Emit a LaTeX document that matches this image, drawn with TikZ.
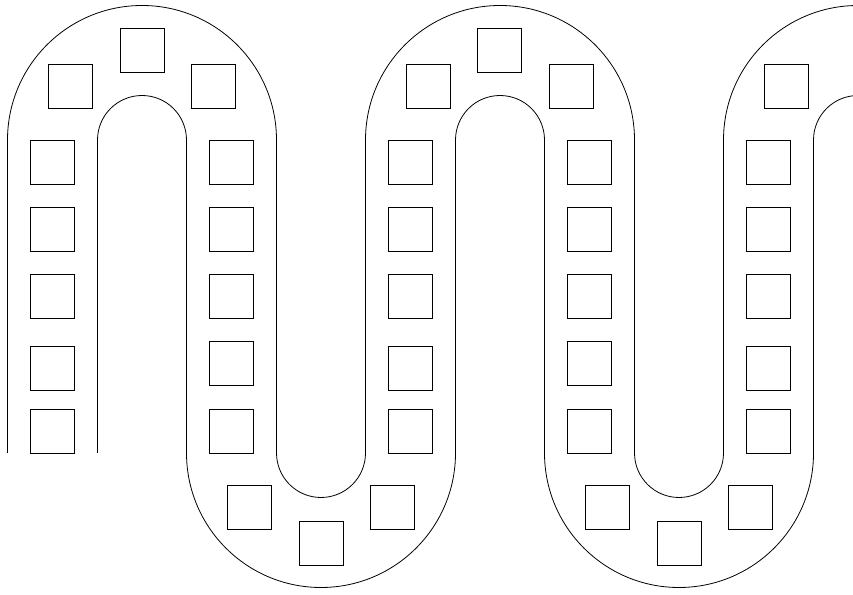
\documentclass[tikz,border=0pt]{standalone}
\begin{document}
\begin{tikzpicture}[x=1pt,y=1pt,
  track/.style={line width=0.8pt,black},
  tile/.style={draw,line width=0.8pt,minimum size=44pt,inner sep=0pt,fill=white}]
\useasboundingbox (0,0) rectangle (853,594);
\clip (0,0) rectangle (853,594);
% outer/inner serpentine curves
\draw[track] (7.5,141) -- (7.5,454) arc[start angle=180,end angle=0,radius=134.5]
  -- (276.5,141) arc[start angle=180,end angle=360,radius=44.5]
  -- (365.5,454) arc[start angle=180,end angle=0,radius=134.5]
  -- (634.5,141) arc[start angle=180,end angle=360,radius=44.5]
  -- (723.5,454) arc[start angle=180,end angle=0,radius=134.5];
\draw[track] (97.5,141) -- (97.5,454) arc[start angle=180,end angle=0,radius=44.5]
  -- (186.5,141) arc[start angle=180,end angle=360,radius=134.5]
  -- (455.5,454) arc[start angle=180,end angle=0,radius=44.5]
  -- (544.5,141) arc[start angle=180,end angle=360,radius=134.5]
  -- (813.5,454) arc[start angle=180,end angle=0,radius=44.5];
% top loop squares
\node[tile] (t1a) at (70.5,507.3) {};
\node[tile] (t1b) at (142.3,543.3) {};
\node[tile] (t1c) at (213.8,507.3) {};
\node[tile] (t2a) at (428.8,507.3) {};
\node[tile] (t2b) at (499.8,543.3) {};
\node[tile] (t2c) at (571.5,507.3) {};
\node[tile] (t3a) at (786.3,507.3) {};
% bottom loop squares
\node[tile] (b1a) at (249.3,86.8) {};
\node[tile] (b1b) at (321,51) {};
\node[tile] (b1c) at (392.7,86.8) {};
\node[tile] (b2a) at (607.3,86.8) {};
\node[tile] (b2b) at (679,51) {};
\node[tile] (b2c) at (750,86.8) {};
% columns
\foreach \c/\x in {1/52.8,3/410.8,5/768.3}{
  \foreach \r/\y in {1/431.2,2/364.2,3/297.2,4/225.3,5/163}{
    \node[tile] (c\c r\r) at (\x,\y) {};
  }
}
\foreach \c/\x in {2/231.8,4/589.7}{
  \foreach \r/\y in {1/431.2,2/364.2,3/297.2,4/230.2,5/163}{
    \node[tile] (c\c r\r) at (\x,\y) {};
  }
}
\end{tikzpicture}
\end{document}
